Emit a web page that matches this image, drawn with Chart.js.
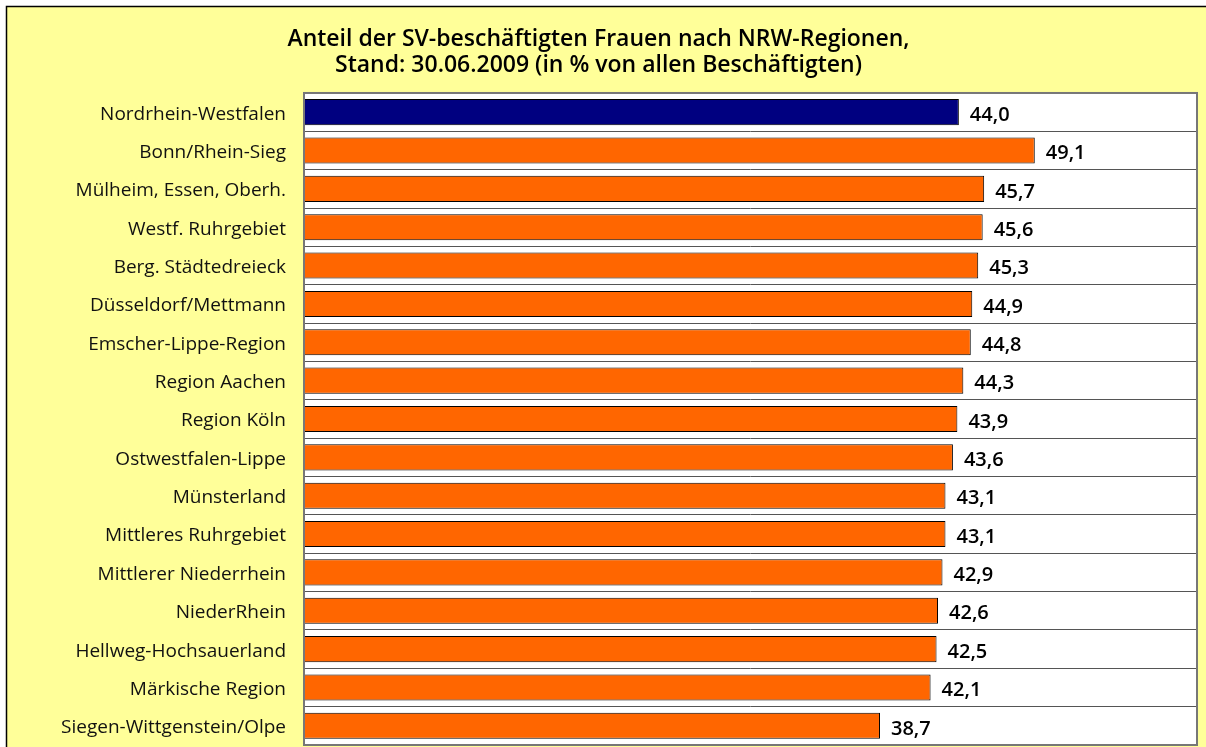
<!DOCTYPE html>
<html>
<head>
<meta charset="utf-8">
<script src="https://cdn.jsdelivr.net/npm/chart.js@4"></script>
<style>
  html, body { margin: 0; padding: 0; background: #fff; }
  #wrap { width: 1206px; height: 747px; }
</style>
</head>
<body>
<div id="wrap"><canvas id="frauenChart" width="1206" height="747"></canvas></div>
<script>
// Anteil SV-beschaeftigter Frauen nach NRW-Regionen, Stand 30.06.2009
const regions = [
    'Nordrhein-Westfalen', 'Bonn/Rhein-Sieg', 'Mülheim, Essen, Oberh.', 'Westf. Ruhrgebiet',
    'Berg. Städtedreieck', 'Düsseldorf/Mettmann', 'Emscher-Lippe-Region', 'Region Aachen',
    'Region Köln', 'Ostwestfalen-Lippe', 'Münsterland', 'Mittleres Ruhrgebiet',
    'Mittlerer Niederrhein', 'NiederRhein', 'Hellweg-Hochsauerland', 'Märkische Region',
    'Siegen-Wittgenstein/Olpe'
];
const shares = [44.0, 49.1, 45.7, 45.6, 45.3, 44.9, 44.8, 44.3, 43.9, 43.6, 43.1, 43.1, 42.9, 42.6, 42.5, 42.1, 38.7];
const titleLines = [
    'Anteil der SV-beschäftigten Frauen nach NRW-Regionen,',
    'Stand: 30.06.2009 (in % von allen Beschäftigten)'
];

const barColors = regions.map((r, i) => i === 0 ? '#000080' : '#FF6600');

// background: white page, yellow frame, white plot area
const backdrop = {
    id: 'backdrop',
    beforeDraw(chart) {
        const c = chart.ctx, a = chart.chartArea;
        c.save();
        c.fillStyle = '#ffffff';
        c.fillRect(0, 0, chart.width, chart.height);
        c.fillStyle = '#FFFF99';
        c.fillRect(6, 6, chart.width - 6, chart.height - 6);
        c.strokeStyle = '#000';
        c.lineWidth = 1.5;
        c.beginPath();
        c.moveTo(6.5, chart.height);
        c.lineTo(6.5, 6.5);
        c.lineTo(chart.width, 6.5);
        c.stroke();
        c.fillStyle = '#ffffff';
        c.fillRect(a.left, a.top, a.right - a.left, a.bottom - a.top);
        c.restore();
    },
    afterDraw(chart) {
        const c = chart.ctx, a = chart.chartArea;
        c.save();
        c.strokeStyle = '#777';
        c.lineWidth = 2;
        c.strokeRect(a.left, a.top, a.right - a.left, a.bottom - a.top);
        c.restore();
    }
};

// value labels right of the bars, German decimal comma
const valueLabels = {
    id: 'valueLabels',
    afterDatasetsDraw(chart) {
        const c = chart.ctx;
        c.save();
        c.font = '600 20px "Open Sans"';
        c.fillStyle = '#000';
        c.textBaseline = 'middle';
        chart.getDatasetMeta(0).data.forEach((bar, i) => {
            c.fillText(shares[i].toFixed(1).replace('.', ','), bar.x + 11, bar.y + 3);
        });
        c.restore();
    }
};

new Chart(document.getElementById('frauenChart').getContext('2d'), {
    type: 'bar',
    data: {
        labels: regions,
        datasets: [{
            data: shares,
            backgroundColor: barColors,
            borderColor: '#000',
            borderWidth: 1,
            borderSkipped: false,
            barPercentage: 0.68,
            categoryPercentage: 1
        }]
    },
    options: {
        indexAxis: 'y',
        responsive: false,
        animation: false,
        layout: { padding: { left: 0, right: 9, bottom: 2, top: 0 } },
        plugins: {
            legend: { display: false },
            tooltip: { enabled: false },
            title: {
                display: true,
                text: titleLines,
                color: '#000',
                font: { family: '"Open Sans"', size: 23, weight: '600', lineHeight: 1.13 },
                padding: { top: 26, bottom: 15 }
            }
        },
        scales: {
            x: {
                min: 0,
                max: 60,
                display: false
            },
            y: {
                grid: { color: '#555', lineWidth: 1, drawTicks: false },
                border: { display: false },
                ticks: {
                    color: '#111',
                    padding: 18,
                    labelOffset: 2,
                    font: { family: '"Open Sans"', size: 19 }
                },
                afterFit(scale) {
                    scale.width = 304;
                    scale.paddingTop = 0;
                    scale.paddingBottom = 0;
                }
            }
        }
    },
    plugins: [backdrop, valueLabels]
});
</script>
</body>
</html>
